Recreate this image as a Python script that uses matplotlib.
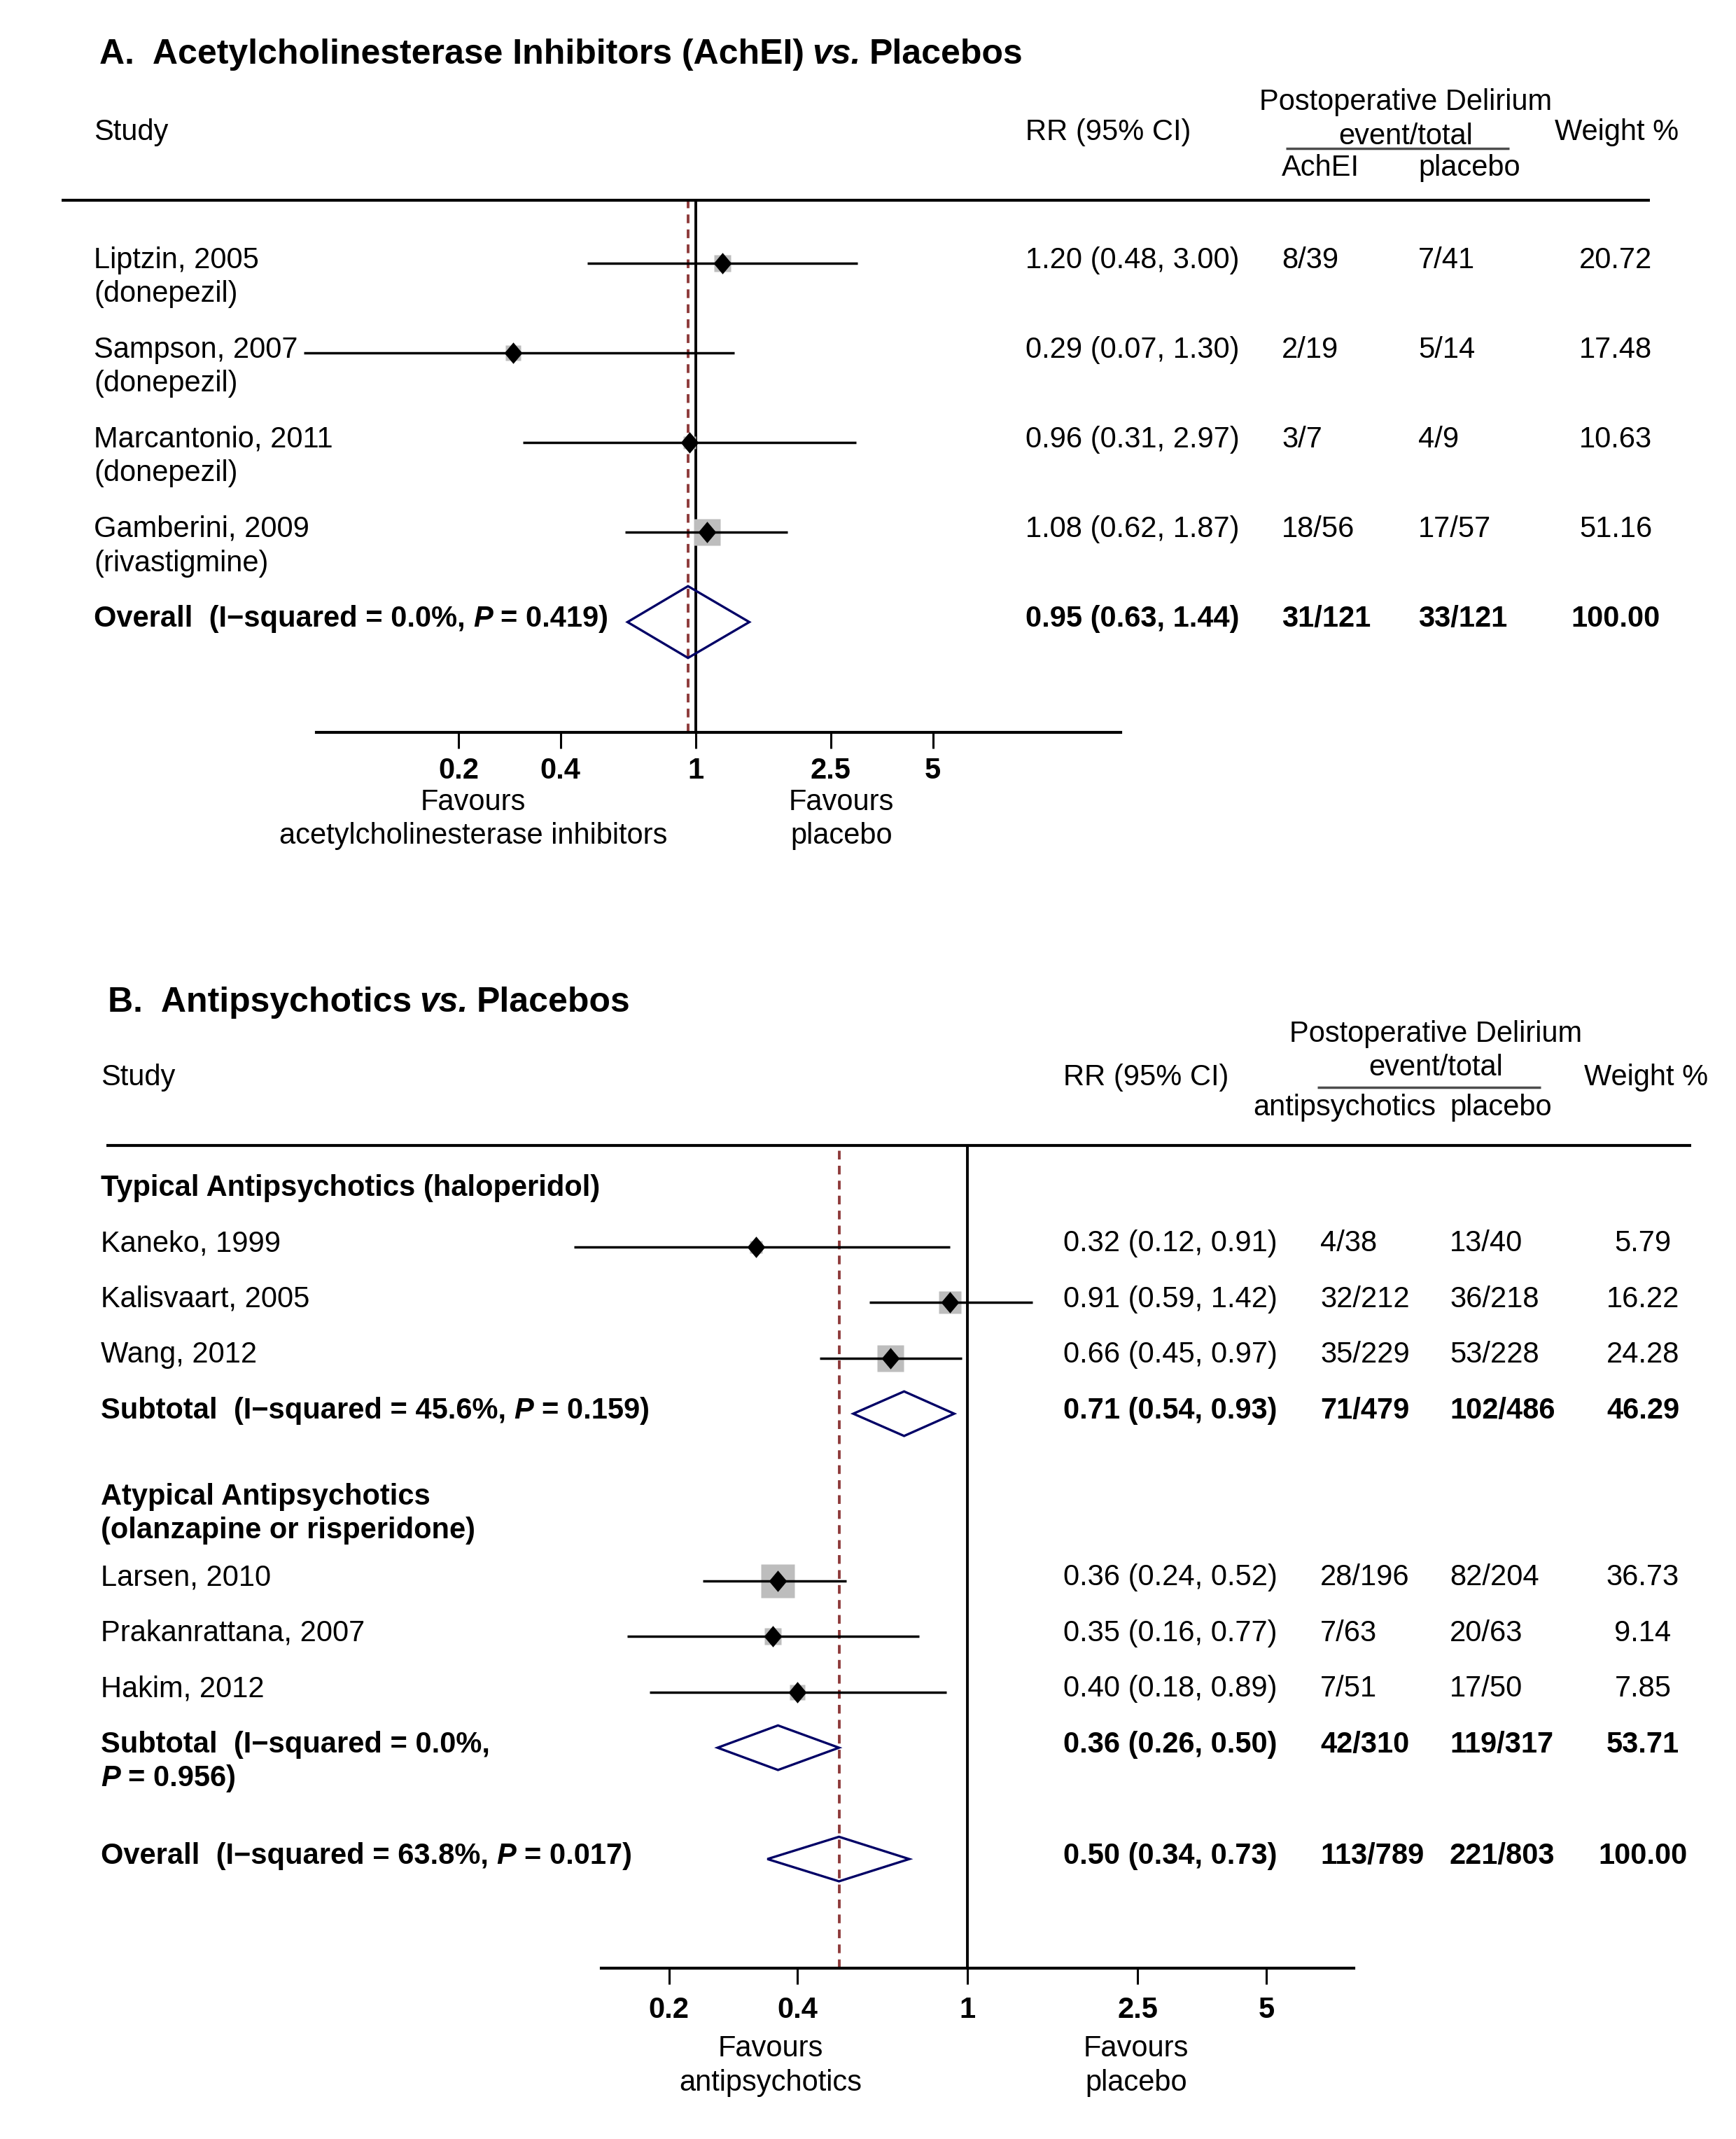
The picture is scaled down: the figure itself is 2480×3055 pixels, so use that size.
import numpy as np
import matplotlib.pyplot as plt
from matplotlib.lines import Line2D
from matplotlib.ticker import NullLocator
from matplotlib.transforms import blended_transform_factory

plt.rcParams['font.family'] = ['Liberation Sans', 'DejaVu Sans']

W, H = 2480, 3055
FS = 30
SP = 8.3  # width of a space in points at FS
NAVY = '#000066'
DASH = '#8E3B3B'
BOX = '#BDBDBD'
DIAMOND = [(-0.84, 0), (0, 1), (0.84, 0), (0, -1), (-0.84, 0)]


def fx(x):
    return x / W


def fy(y):
    # +4 px so that the visual centre of the caps sits where it was measured
    return 1 - (y + 4) / H


# A. Acetylcholinesterase inhibitors vs placebo
studies_a = ['Liptzin, 2005', 'Sampson, 2007', 'Marcantonio, 2011', 'Gamberini, 2009']
drugs_a = ['(donepezil)', '(donepezil)', '(donepezil)', '(rivastigmine)']
rr_a = [1.20, 0.29, 0.96, 1.08]
lo_a = [0.48, 0.07, 0.31, 0.62]
hi_a = [3.00, 1.30, 2.97, 1.87]
ev_achei = ['8/39', '2/19', '3/7', '18/56']
ev_plac_a = ['7/41', '5/14', '4/9', '17/57']
weight_a = [20.72, 17.48, 10.63, 51.16]
overall_a = [0.95, 0.63, 1.44]
overall_ev_a = ['31/121', '33/121']
overall_stat_a = ['0.0%', '0.419']

# B. Antipsychotics vs placebo
groups_b = ['Typical Antipsychotics (haloperidol)',
            'Atypical Antipsychotics', '(olanzapine or risperidone)']
studies_b = ['Kaneko, 1999', 'Kalisvaart, 2005', 'Wang, 2012',
             'Larsen, 2010', 'Prakanrattana, 2007', 'Hakim, 2012']
rr_b = [0.32, 0.91, 0.66, 0.36, 0.35, 0.40]
lo_b = [0.12, 0.59, 0.45, 0.24, 0.16, 0.18]
hi_b = [0.91, 1.42, 0.97, 0.52, 0.77, 0.89]
ev_anti = ['4/38', '32/212', '35/229', '28/196', '7/63', '7/51']
ev_plac_b = ['13/40', '36/218', '53/228', '82/204', '20/63', '17/50']
weight_b = [5.79, 16.22, 24.28, 36.73, 9.14, 7.85]
sub_rr_b = [0.71, 0.36]
sub_lo_b = [0.54, 0.26]
sub_hi_b = [0.93, 0.50]
sub_ev_anti = ['71/479', '42/310']
sub_ev_plac = ['102/486', '119/317']
sub_weight_b = [46.29, 53.71]
sub_stat_b = [['45.6%', '0.159'], ['0.0%', '0.956']]
overall_b = [0.50, 0.34, 0.73]
overall_ev_b = ['113/789', '221/803']
overall_stat_b = ['63.8%', '0.017']

ticks = [0.2, 0.4, 1, 2.5, 5]
tick_labels = ['0.2', '0.4', '1', '2.5', '5']

# row layout
rows_a = [0, 1, 2, 3]
overall_row_a = 4
rows_b = [1, 2, 3, 7, 8, 9]
sub_rows_b = [4, 10]
overall_row_b = 12


def fmt_ci(est, l, h):
    return f'{est:.2f} ({l:.2f}, {h:.2f})'


def hline(fig, x0, x1, y, lw=3, color='k'):
    fig.add_artist(Line2D([fx(x0), fx(x1)], [1 - y / H, 1 - y / H], transform=fig.transFigure,
                          lw=lw, color=color, solid_capstyle='butt'))


def chain(ax, prev, s, **kw):
    return ax.annotate(s, xy=(1, 0), xycoords=prev, xytext=(SP, 0), textcoords='offset points',
                       va='bottom', ha='left', fontsize=kw.pop('fontsize', FS), **kw)


def stat_label(ax, tr, x, y, head, i2, p, wrap=None):
    t = ax.text(x, y, f'{head}  (I\u2212squared = {i2},', transform=tr, fontsize=FS,
                fontweight='bold', va='center', ha='left')
    if wrap is None:
        t = chain(ax, t, 'P', fontweight='bold', fontstyle='italic')
    else:
        t = ax.text(x, y + wrap, 'P', transform=tr, fontsize=FS, fontweight='bold',
                    fontstyle='italic', va='center', ha='left')
    chain(ax, t, f'= {p})', fontweight='bold')


def setup_axis(ax, xlim, ylim, pad):
    ax.set_xscale('log')
    ax.set_xlim(*xlim)
    ax.set_ylim(*ylim)
    for s in ['top', 'left', 'right']:
        ax.spines[s].set_visible(False)
    ax.spines['bottom'].set_linewidth(3)
    ax.set_yticks([])
    ax.set_xticks(ticks)
    ax.set_xticklabels(tick_labels, fontweight='bold', fontsize=30)
    ax.xaxis.set_minor_locator(NullLocator())
    ax.tick_params(axis='x', direction='out', length=16.5, width=2.2, pad=pad)
    ax.patch.set_visible(False)


def forest_marks(ax, rows, rr, lo, hi, weights, box_pt):
    wmax = max(weights)
    for r, est, l, h, w in zip(rows, rr, lo, hi, weights):
        ax.plot(est, r, marker='s', ms=box_pt * np.sqrt(w / wmax), color=BOX, mec='none',
                zorder=2, clip_on=False)
        ax.plot([l, h], [r, r], color='k', lw=2.5, solid_capstyle='butt', clip_on=False, zorder=3)
        ax.plot(est, r, marker=DIAMOND, ms=22, color='k', mec='k', mew=0, zorder=4, clip_on=False)


def pooled(ax, r, est, l, h, half=0.40):
    ax.fill([l, est, h, est], [r, r - half, r, r + half], facecolor='none', edgecolor=NAVY,
            lw=2.4, zorder=4, clip_on=False)


fig = plt.figure(figsize=(24.8, 30.55), dpi=100)

# ---------------- Panel A ----------------
axA = fig.add_axes([fx(452), 1 - 1046 / H, fx(1601 - 452), (1046 - 286) / H])
setup_axis(axA, (0.0763, 17.9), (5.23, -0.703), 9)
trA = blended_transform_factory(fig.transFigure, axA.transData)
dA = -0.035  # text sits slightly above the marker line

t = fig.text(fx(142), fy(74), 'A.  Acetylcholinesterase Inhibitors (AchEI)', fontsize=36,
             fontweight='bold', va='center', ha='left')
t = chain(axA, t, 'vs.', fontsize=36, fontweight='bold', fontstyle='italic')
chain(axA, t, 'Placebos', fontsize=36, fontweight='bold')

fig.text(fx(134), fy(185), 'Study', fontsize=FS, va='center')
fig.text(fx(1465), fy(185), 'RR (95% CI)', fontsize=FS, va='center')
fig.text(fx(2008), fy(142), 'Postoperative Delirium', fontsize=FS, va='center', ha='center')
fig.text(fx(2008), fy(191), 'event/total', fontsize=FS, va='center', ha='center')
hline(fig, 1837, 2156, 212, lw=2.5, color='#4D4D4D')
fig.text(fx(1831), fy(236), 'AchEI', fontsize=FS, va='center')
fig.text(fx(2026), fy(236), 'placebo', fontsize=FS, va='center')
fig.text(fx(2221), fy(185), 'Weight %', fontsize=FS, va='center')
hline(fig, 88, 2357, 286)

axA.axvline(1, color='k', lw=2.8, zorder=1)
axA.axvline(overall_a[0], color=DASH, lw=2.8, ls=(0, (3.2, 2.3)), zorder=1)
forest_marks(axA, rows_a, rr_a, lo_a, hi_a, weight_a, 28)
pooled(axA, overall_row_a, *overall_a)

for r, name, drug, est, l, h, e1, e2, w in zip(rows_a, studies_a, drugs_a, rr_a, lo_a, hi_a,
                                               ev_achei, ev_plac_a, weight_a):
    y = r + dA
    axA.text(fx(134), y, name, transform=trA, fontsize=FS, va='center')
    axA.text(fx(134), y + 0.38, drug, transform=trA, fontsize=FS, va='center')
    axA.text(fx(1465), y, fmt_ci(est, l, h), transform=trA, fontsize=FS, va='center')
    axA.text(fx(1831), y, e1, transform=trA, fontsize=FS, va='center')
    axA.text(fx(2026), y, e2, transform=trA, fontsize=FS, va='center')
    axA.text(fx(2308), y, f'{w:.2f}', transform=trA, fontsize=FS, va='center', ha='center')

y = overall_row_a + dA
stat_label(axA, trA, fx(134), y, 'Overall', *overall_stat_a)
axA.text(fx(1465), y, fmt_ci(*overall_a), transform=trA, fontsize=FS, va='center', fontweight='bold')
axA.text(fx(1831), y, overall_ev_a[0], transform=trA, fontsize=FS, va='center', fontweight='bold')
axA.text(fx(2026), y, overall_ev_a[1], transform=trA, fontsize=FS, va='center', fontweight='bold')
axA.text(fx(2308), y, '100.00', transform=trA, fontsize=FS, va='center', ha='center',
         fontweight='bold')

fig.text(fx(676), fy(1142), 'Favours', fontsize=FS, va='center', ha='center')
fig.text(fx(676), fy(1190), 'acetylcholinesterase inhibitors', fontsize=FS, va='center', ha='center')
fig.text(fx(1202), fy(1142), 'Favours', fontsize=FS, va='center', ha='center')
fig.text(fx(1202), fy(1190), 'placebo', fontsize=FS, va='center', ha='center')

# ---------------- Panel B ----------------
axB = fig.add_axes([fx(859), 1 - 2811 / H, fx(1934 - 859), (2811 - 1636) / H])
setup_axis(axB, (0.139, 8.0), (13.96, -0.818), 12)
trB = blended_transform_factory(fig.transFigure, axB.transData)
dB = -0.055

t = fig.text(fx(154), fy(1428), 'B.  Antipsychotics', fontsize=36, fontweight='bold',
             va='center', ha='left')
t = chain(axB, t, 'vs.', fontsize=36, fontweight='bold', fontstyle='italic')
chain(axB, t, 'Placebos', fontsize=36, fontweight='bold')

fig.text(fx(144), fy(1535), 'Study', fontsize=FS, va='center')
fig.text(fx(1519), fy(1535), 'RR (95% CI)', fontsize=FS, va='center')
fig.text(fx(2051), fy(1473), 'Postoperative Delirium', fontsize=FS, va='center', ha='center')
fig.text(fx(2051), fy(1521), 'event/total', fontsize=FS, va='center', ha='center')
hline(fig, 1882, 2201, 1553, lw=2.5, color='#4D4D4D')
fig.text(fx(1790), fy(1578), 'antipsychotics', fontsize=FS, va='center')
fig.text(fx(2071), fy(1578), 'placebo', fontsize=FS, va='center')
fig.text(fx(2263), fy(1535), 'Weight %', fontsize=FS, va='center')
hline(fig, 152, 2416, 1636)

axB.axvline(1, color='k', lw=2.8, zorder=1)
axB.axvline(overall_b[0], color=DASH, lw=2.8, ls=(0, (3.2, 2.3)), zorder=1)
forest_marks(axB, rows_b, rr_b, lo_b, hi_b, weight_b, 34)
for r, est, l, h in zip(sub_rows_b, sub_rr_b, sub_lo_b, sub_hi_b):
    pooled(axB, r, est, l, h)
pooled(axB, overall_row_b, *overall_b)

axB.text(fx(144), 0 + dB, groups_b[0], transform=trB, fontsize=FS, va='center', fontweight='bold')
axB.text(fx(144), 5.55 + dB, groups_b[1], transform=trB, fontsize=FS, va='center', fontweight='bold')
axB.text(fx(144), 6.16 + dB, groups_b[2], transform=trB, fontsize=FS, va='center', fontweight='bold')

for r, name, est, l, h, e1, e2, w in zip(rows_b, studies_b, rr_b, lo_b, hi_b,
                                         ev_anti, ev_plac_b, weight_b):
    y = r + dB
    axB.text(fx(144), y, name, transform=trB, fontsize=FS, va='center')
    axB.text(fx(1519), y, fmt_ci(est, l, h), transform=trB, fontsize=FS, va='center')
    axB.text(fx(1886), y, e1, transform=trB, fontsize=FS, va='center')
    axB.text(fx(2071), y, e2, transform=trB, fontsize=FS, va='center')
    axB.text(fx(2347), y, f'{w:.2f}', transform=trB, fontsize=FS, va='center', ha='center')

for i, r in enumerate(sub_rows_b):
    y = r + dB
    stat_label(axB, trB, fx(144), y, 'Subtotal', *sub_stat_b[i], wrap=0.61 if i == 1 else None)
    axB.text(fx(1519), y, fmt_ci(sub_rr_b[i], sub_lo_b[i], sub_hi_b[i]), transform=trB,
             fontsize=FS, va='center', fontweight='bold')
    axB.text(fx(1886), y, sub_ev_anti[i], transform=trB, fontsize=FS, va='center', fontweight='bold')
    axB.text(fx(2071), y, sub_ev_plac[i], transform=trB, fontsize=FS, va='center', fontweight='bold')
    axB.text(fx(2347), y, f'{sub_weight_b[i]:.2f}', transform=trB, fontsize=FS, va='center',
             ha='center', fontweight='bold')

y = overall_row_b + dB
stat_label(axB, trB, fx(144), y, 'Overall', *overall_stat_b)
axB.text(fx(1519), y, fmt_ci(*overall_b), transform=trB, fontsize=FS, va='center', fontweight='bold')
axB.text(fx(1886), y, overall_ev_b[0], transform=trB, fontsize=FS, va='center', fontweight='bold')
axB.text(fx(2071), y, overall_ev_b[1], transform=trB, fontsize=FS, va='center', fontweight='bold')
axB.text(fx(2347), y, '100.00', transform=trB, fontsize=FS, va='center', ha='center',
         fontweight='bold')

fig.text(fx(1101), fy(2922), 'Favours', fontsize=FS, va='center', ha='center')
fig.text(fx(1101), fy(2971), 'antipsychotics', fontsize=FS, va='center', ha='center')
fig.text(fx(1623), fy(2922), 'Favours', fontsize=FS, va='center', ha='center')
fig.text(fx(1623), fy(2971), 'placebo', fontsize=FS, va='center', ha='center')

fig.savefig('out.png', dpi=100)
